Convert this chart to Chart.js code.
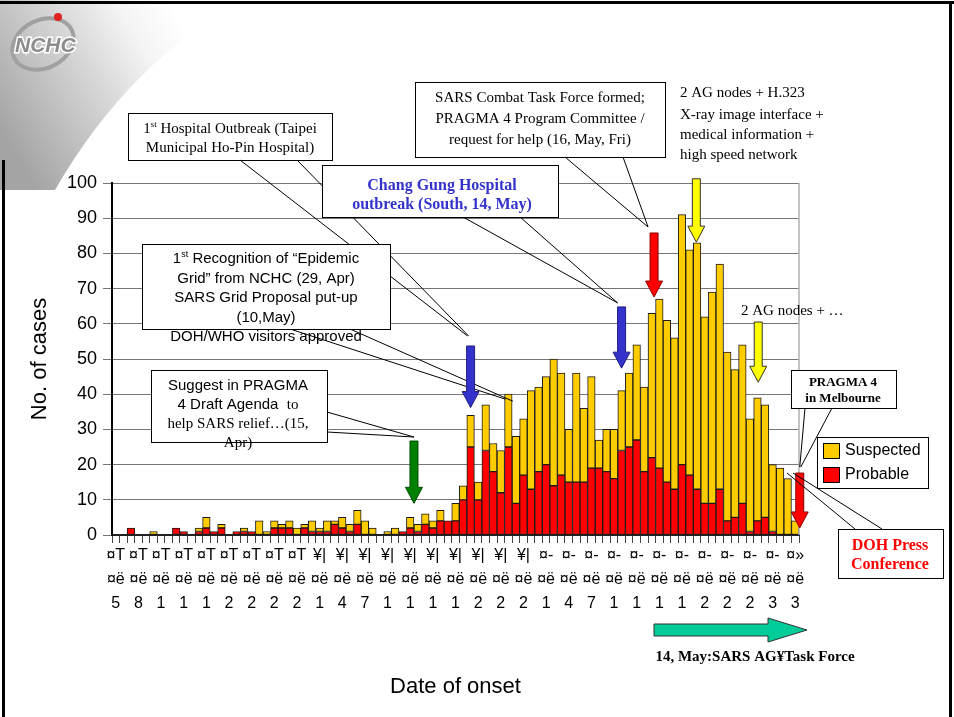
<!DOCTYPE html>
<html>
<head>
<meta charset="utf-8">
<script src="https://cdn.jsdelivr.net/npm/chart.js@4.4.1/dist/chart.umd.min.js"></script>
<style>
  html, body { margin: 0; padding: 0; background: #fff; }
  canvas { display: block; }
</style>
</head>
<body>
<canvas id="sars" width="954" height="717" style="width:954px;height:717px"></canvas>
<script>
// daily onset, 5 Mar .. 3 Jun (91 days)
const monthLengths = [['3', 27, 5], ['4', 30, 1], ['5', 31, 1], ['6', 3, 1]];
const days = [];
monthLengths.forEach(([m, n, start]) => {
  for (let d = start; d < start + n; d++) days.push(m + '/' + d);
});

const probable = [
  0, 0, 2, 0, 0, 0, 0, 0, 2, 1,
  0, 1, 2, 1, 2, 0, 1, 1, 1, 0,
  0, 2, 2, 2, 0, 2, 1, 1, 1, 3,
  2, 1, 3, 0, 0, 0, 0, 0, 1, 2,
  1, 3, 2, 4, 4, 4, 10, 25, 10, 24,
  18, 12, 25, 9, 17, 13, 18, 20, 14, 17,
  15, 15, 15, 19, 19, 18, 16, 24, 25, 27,
  18, 22, 19, 15, 13, 20, 17, 13, 9, 9,
  13, 4, 5, 9, 1, 4, 5, 1, 0, 0,
  0
];
const suspected = [
  0, 0, 0, 0, 0, 1, 0, 0, 0, 0,
  0, 1, 3, 0, 1, 0, 0, 1, 0, 4,
  1, 2, 1, 2, 2, 1, 3, 1, 3, 1,
  3, 2, 4, 4, 2, 0, 1, 2, 0, 3,
  2, 3, 2, 3, 0, 5, 4, 9, 5, 13,
  8, 12, 15, 19, 16, 28, 24, 25, 36, 29,
  15, 31, 21, 26, 8, 12, 14, 17, 21, 27,
  24, 41, 48, 46, 43, 71, 64, 70, 53, 60,
  64, 48, 42, 45, 32, 35, 32, 19, 19, 16,
  4
];

// axis labels as they appear on the slide (one every 3 days)
const tickMonth = ['¤T','¤T','¤T','¤T','¤T','¤T','¤T','¤T','¤T',
  '¥|','¥|','¥|','¥|','¥|','¥|','¥|','¥|','¥|','¥|',
  '¤-','¤-','¤-','¤-','¤-','¤-','¤-','¤-','¤-','¤-','¤-',
  '¤»'];
const tickDigit = ['5','8','1','1','1','2','2','2','2',
  '1','4','7','1','1','1','1','2','2','2',
  '1','4','7','1','1','1','1','2','2','2','3',
  '3'];
const yTicks = [0, 10, 20, 30, 40, 50, 60, 70, 80, 90, 100];

const SANS = '"Liberation Sans", Arial, sans-serif';
const SERIF = '"Liberation Serif", "Times New Roman", serif';
const YELLOW = '#FFCC00';
const RED = '#FF0000';

function downArrow(ctx, x, yTop, yTip, fill, stroke) {
  const sw = 4, hw = 8.5, hh = 16;
  ctx.beginPath();
  ctx.moveTo(x - sw, yTop);
  ctx.lineTo(x + sw, yTop);
  ctx.lineTo(x + sw, yTip - hh);
  ctx.lineTo(x + hw, yTip - hh);
  ctx.lineTo(x, yTip);
  ctx.lineTo(x - hw, yTip - hh);
  ctx.lineTo(x - sw, yTip - hh);
  ctx.closePath();
  ctx.fillStyle = fill;
  ctx.fill();
  ctx.lineWidth = 1;
  ctx.strokeStyle = stroke;
  ctx.stroke();
}

function box(ctx, x, y, w, h) {
  ctx.fillStyle = '#fff';
  ctx.fillRect(x, y, w, h);
  ctx.lineWidth = 1;
  ctx.strokeStyle = '#000';
  ctx.strokeRect(x + 0.5, y + 0.5, w, h);
}

function line(ctx, x1, y1, x2, y2) {
  ctx.beginPath();
  ctx.moveTo(x1, y1);
  ctx.lineTo(x2, y2);
  ctx.lineWidth = 1;
  ctx.strokeStyle = '#000';
  ctx.stroke();
}

function text(ctx, s, x, y, font, color, align) {
  ctx.font = font;
  ctx.fillStyle = color || '#000';
  ctx.textAlign = align || 'center';
  ctx.textBaseline = 'middle';
  ctx.fillText(s, x, y);
}

// "1st ..." with raised st, centred on cx
function textSup(ctx, pre, sup, rest, cx, y, size, fam) {
  ctx.font = size + 'px ' + fam;
  const w1 = ctx.measureText(pre).width;
  const w3 = ctx.measureText(rest).width;
  ctx.font = Math.round(size * 0.6) + 'px ' + fam;
  const w2 = ctx.measureText(sup).width;
  let x = cx - (w1 + w2 + w3) / 2;
  ctx.textAlign = 'left';
  ctx.textBaseline = 'middle';
  ctx.fillStyle = '#000';
  ctx.font = size + 'px ' + fam;
  ctx.fillText(pre, x, y);
  ctx.font = Math.round(size * 0.6) + 'px ' + fam;
  ctx.fillText(sup, x + w1, y - size * 0.3);
  ctx.font = size + 'px ' + fam;
  ctx.fillText(rest, x + w1 + w2, y);
}

const slideBackground = {
  id: 'slideBackground',
  beforeDraw(chart) {
    const ctx = chart.ctx;
    ctx.save();
    ctx.fillStyle = '#fff';
    ctx.fillRect(0, 0, chart.width, chart.height);
    // grey swoosh behind the logo
    const g = ctx.createLinearGradient(0, 130, 180, 20);
    g.addColorStop(0, '#a4a4a4');
    g.addColorStop(0.5, '#d6d6d6');
    g.addColorStop(0.78, '#f4f4f4');
    g.addColorStop(1, '#ffffff');
    ctx.beginPath();
    ctx.moveTo(0, 0);
    ctx.lineTo(245, 0);
    ctx.quadraticCurveTo(130, 60, 55, 190);
    ctx.lineTo(0, 190);
    ctx.closePath();
    ctx.fillStyle = g;
    ctx.fill();
    // logo ring + dot
    ctx.beginPath();
    ctx.ellipse(43, 44, 32, 24, -0.45, 0, Math.PI * 2);
    ctx.lineWidth = 4;
    ctx.strokeStyle = '#a0a0a0';
    ctx.stroke();
    ctx.beginPath();
    ctx.arc(58, 17, 4, 0, Math.PI * 2);
    ctx.fillStyle = '#e02020';
    ctx.fill();
    ctx.font = 'italic bold 21px ' + SANS;
    ctx.textAlign = 'left';
    ctx.textBaseline = 'middle';
    ctx.lineWidth = 3;
    ctx.strokeStyle = '#ffffff';
    ctx.strokeText('NCHC', 15, 46);
    ctx.fillStyle = '#8c8c8c';
    ctx.fillText('NCHC', 15, 46);
    // slide frame
    ctx.fillStyle = '#000';
    ctx.fillRect(0, 1, 954, 3);
    ctx.fillRect(949, 1, 3, 716);
    ctx.fillRect(2, 160, 3, 557);
    ctx.restore();
  }
};

const annotations = {
  id: 'annotations',
  afterDraw(chart) {
    const ctx = chart.ctx;
    const X = v => chart.scales.x.getPixelForValue(v);
    const Y = v => chart.scales.y.getPixelForValue(v);
    const a = chart.chartArea;
    ctx.save();

    // right frame of plot
    ctx.strokeStyle = '#b0b0b0';
    ctx.lineWidth = 1.5;
    ctx.beginPath();
    ctx.moveTo(a.right, a.top);
    ctx.lineTo(a.right, a.bottom);
    ctx.stroke();

    // arrows: [index, top value, tip value, fill, stroke]
    const arrows = {
      green: [39.5, 26.7, 9.0, '#008000', '#004d00'],
      blue1: [47.0, 53.7, 36.2, '#3333CC', '#1f1f80'],
      blue2: [67.0, 64.8, 47.4, '#3333CC', '#1f1f80'],
      red1: [71.3, 85.8, 67.6, '#FF0000', '#8b0000'],
      yellow1: [76.9, 101.2, 83.2, '#FFFF00', '#333'],
      yellow2: [85.1, 60.5, 43.4, '#FFFF00', '#333'],
      red2: [90.6, 17.6, 2.0, '#FF0000', '#8b0000']
    };
    const top = k => [X(arrows[k][0]), Y(arrows[k][1])];

    // 1st hospital outbreak
    box(ctx, 128, 113, 204, 47);
    const b1 = top('blue1');
    line(ctx, 240, 160, b1[0] - 3, b1[1] - 10);
    line(ctx, 297, 160, b1[0] - 2, b1[1] - 10);
    textSup(ctx, '1', 'st', ' Hospital Outbreak (Taipei', 230, 129, 15, SERIF);
    text(ctx, 'Municipal Ho-Pin Hospital)', 230, 148, '15px ' + SERIF);

    // 1st recognition
    line(ctx, 290, 329, X(51.6), Y(38.6));
    line(ctx, 350, 329, X(52.6), Y(38.0));
    box(ctx, 142, 244, 248, 85);
    textSup(ctx, '1', 'st', ' Recognition of \u201cEpidemic', 266, 259, 15, SANS);
    text(ctx, 'Grid\u201d from NCHC (29, Apr)', 266, 279, '15px ' + SANS);
    text(ctx, 'SARS Grid Proposal put-up', 266, 298, '15px ' + SANS);
    text(ctx, '(10,May)', 266, 318, '15px ' + SANS);
    text(ctx, 'DOH/WHO visitors approved', 266, 337, '15px ' + SANS);

    // suggest in PRAGMA
    const g = top('green');
    line(ctx, 327, 412, g[0], g[1] - 4);
    line(ctx, 327, 432, g[0], g[1] - 4);
    box(ctx, 151, 370, 176, 72);
    text(ctx, 'Suggest in PRAGMA', 238, 386, '15px ' + SANS);
    ctx.font = '15px ' + SANS;
    const wA = ctx.measureText('4 Draft Agenda  ').width;
    ctx.font = '15px ' + SERIF;
    const wB = ctx.measureText('to').width;
    text(ctx, '4 Draft Agenda  ', 238 - (wA + wB) / 2, 405, '15px ' + SANS, '#000', 'left');
    text(ctx, 'to', 238 - (wA + wB) / 2 + wA, 405, '15px ' + SERIF, '#000', 'left');
    text(ctx, 'help SARS relief\u2026(15,', 238, 424, '15px ' + SERIF);
    text(ctx, 'Apr)', 238, 443, '15px ' + SERIF);

    // Chang Gung
    const b2 = top('blue2');
    line(ctx, 463, 217, b2[0] - 4, b2[1] - 4);
    line(ctx, 520, 217, b2[0] - 4, b2[1] - 4);
    box(ctx, 322, 165, 236, 52);
    text(ctx, 'Chang Gung Hospital', 442, 186, 'bold 16px ' + SERIF, '#3333CC');
    text(ctx, 'outbreak (South, 14, May)', 442, 205, 'bold 16px ' + SERIF, '#3333CC');

    // SARS combat task force
    const r1 = top('red1');
    line(ctx, 565, 157, r1[0] - 6, r1[1] - 6);
    line(ctx, 623, 157, r1[0] - 6, r1[1] - 6);
    box(ctx, 415, 82, 250, 75);
    text(ctx, 'SARS Combat Task Force formed;', 540, 98, '15px ' + SERIF);
    text(ctx, 'PRAGMA 4 Program Committee /', 540, 119, '15px ' + SERIF);
    text(ctx, 'request for help (16, May, Fri)', 540, 140, '15px ' + SERIF);

    // free text
    text(ctx, '2 AG nodes + H.323', 680, 93, '15px ' + SERIF, '#000', 'left');
    text(ctx, 'X-ray image interface +', 680, 115, '15px ' + SERIF, '#000', 'left');
    text(ctx, 'medical information +', 680, 135, '15px ' + SERIF, '#000', 'left');
    text(ctx, 'high speed network', 680, 155, '15px ' + SERIF, '#000', 'left');
    text(ctx, '2 AG nodes + \u2026', 741, 311, '15px ' + SERIF, '#000', 'left');

    Object.values(arrows).forEach(([i, t, p, f, s]) => downArrow(ctx, X(i), Y(t), Y(p), f, s));

    // PRAGMA 4 in Melbourne
    const r2 = top('red2');
    line(ctx, 805, 408, r2[0], r2[1] - 6);
    line(ctx, 832, 408, r2[0] + 1, r2[1] - 6);
    box(ctx, 791, 370, 105, 38);
    text(ctx, 'PRAGMA 4', 843, 383, 'bold 13px ' + SERIF);
    text(ctx, 'in Melbourne', 843, 399, 'bold 13px ' + SERIF);

    // DOH press conference
    line(ctx, 855, 529, 787, 473);
    line(ctx, 882, 529, 793, 473);
    box(ctx, 838, 529, 105, 49);
    text(ctx, 'DOH Press', 890, 546, 'bold 16px ' + SERIF, '#FF0000');
    text(ctx, 'Conference', 890, 565, 'bold 16px ' + SERIF, '#FF0000');

    // legend
    box(ctx, 817, 437, 111, 51);
    ctx.lineWidth = 1;
    ctx.strokeStyle = '#000';
    ctx.fillStyle = YELLOW;
    ctx.fillRect(823, 443, 16, 15);
    ctx.strokeRect(823.5, 443.5, 16, 15);
    ctx.fillStyle = RED;
    ctx.fillRect(823, 467, 16, 15);
    ctx.strokeRect(823.5, 467.5, 16, 15);
    text(ctx, 'Suspected', 845, 451, '16px ' + SANS, '#000', 'left');
    text(ctx, 'Probable', 845, 475, '16px ' + SANS, '#000', 'left');

    // task force period arrow
    const x0 = 654, x1 = 807, yc = 630;
    ctx.beginPath();
    ctx.moveTo(x0, yc - 6);
    ctx.lineTo(768, yc - 6);
    ctx.lineTo(768, yc - 12);
    ctx.lineTo(x1, yc);
    ctx.lineTo(768, yc + 12);
    ctx.lineTo(768, yc + 6);
    ctx.lineTo(x0, yc + 6);
    ctx.closePath();
    ctx.fillStyle = '#00CC99';
    ctx.fill();
    ctx.strokeStyle = '#333';
    ctx.lineWidth = 1;
    ctx.stroke();
    text(ctx, '14, May:SARS AG\u00a5Task Force', 755, 657, 'bold 15px ' + SERIF);

    ctx.restore();
  }
};

new Chart(document.getElementById('sars'), {
  type: 'bar',
  data: {
    labels: days,
    datasets: [
      {
        label: 'Probable',
        data: probable,
        backgroundColor: RED,
        borderColor: '#1a1a1a',
        borderWidth: 1,
        borderSkipped: false,
        barPercentage: 1,
        categoryPercentage: 1
      },
      {
        label: 'Suspected',
        data: suspected,
        backgroundColor: YELLOW,
        borderColor: '#1a1a1a',
        borderWidth: 1,
        borderSkipped: false,
        barPercentage: 1,
        categoryPercentage: 1
      }
    ]
  },
  options: {
    responsive: false,
    animation: false,
    devicePixelRatio: 1,
    layout: { padding: { left: 0, top: 183, right: 155, bottom: 0 } },
    plugins: {
      legend: { display: false },
      tooltip: { enabled: false }
    },
    scales: {
      x: {
        stacked: true,
        afterFit(s) { s.height = 182; },
        grid: { drawOnChartArea: false, tickLength: 8, color: '#444', offset: true },
        border: { color: '#222', width: 2 },
        ticks: {
          autoSkip: false,
          maxRotation: 0,
          minRotation: 0,
          padding: 1,
          color: '#000',
          font: { family: SANS, size: 16, lineHeight: 1.5 },
          callback(v, i) {
            return i % 3 === 0 ? [tickMonth[i / 3], '¤ë', tickDigit[i / 3]] : '';
          }
        },
        title: {
          display: true,
          text: 'Date of onset',
          color: '#000',
          font: { family: SANS, size: 22 },
          padding: { top: 0, bottom: 17 }
        }
      },
      y: {
        stacked: true,
        min: 0,
        max: 100,
        afterFit(s) { s.width = 112; },
        afterBuildTicks(s) { s.ticks = yTicks.map(v => ({ value: v })); },
        grid: { color: '#777', lineWidth: 1, tickLength: 9 },
        border: { color: '#000', width: 2 },
        ticks: {
          padding: 6,
          color: '#000',
          font: { family: SANS, size: 18 }
        },
        title: {
          display: true,
          text: 'No. of cases',
          color: '#000',
          font: { family: SANS, size: 22 },
          padding: { top: 27, bottom: 0 }
        }
      }
    }
  },
  plugins: [slideBackground, annotations]
});
</script>
</body>
</html>
